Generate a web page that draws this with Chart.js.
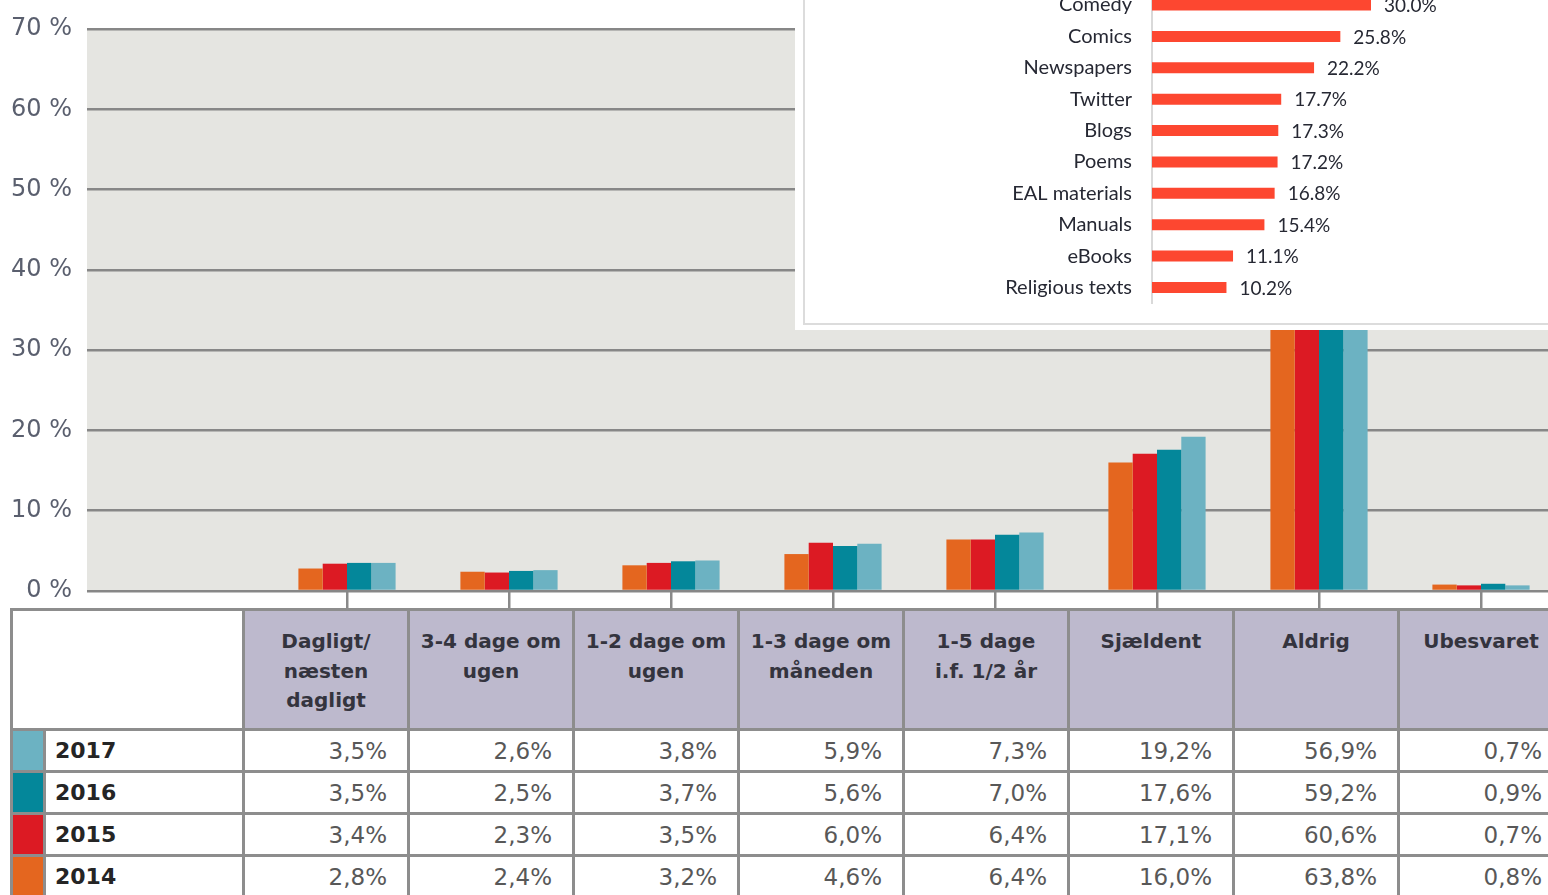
<!DOCTYPE html>
<html lang="da">
<head>
<meta charset="utf-8">
<script src="https://cdn.jsdelivr.net/npm/chart.js@4.4.1/dist/chart.umd.min.js"></script>
<style>
  html, body { margin: 0; padding: 0; background: #fff; width: 1548px; height: 895px; overflow: hidden; }
  #wrap { position: relative; width: 1548px; height: 895px; overflow: hidden; }
  #hovedgraf { position: absolute; left: 0; top: 0; }
  #indsat { position: absolute; left: 795px; top: 0; width: 780px; height: 330px; background: #fff; overflow: hidden; }
  #indsat .ramme { position: absolute; left: 8px; top: -10px; width: 800px; height: 333px; border-left: 2px solid #dcdcdc; border-bottom: 2px solid #dcdcdc; }
  #grafIndsat { position: absolute; left: 10px; top: -40px; }
  #tabel { position: absolute; left: 10px; top: 608px; width: 1552px; border-collapse: collapse; table-layout: fixed; font-family: "DejaVu Sans", sans-serif; }
  #tabel th, #tabel td { border: 3px solid #8d8d8d; padding: 0; }
  #tabel th { background: #bdb9cd; color: #34343e; font-size: 20px; font-weight: bold; line-height: 29.5px; vertical-align: top; padding-top: 16px; text-align: center; height: 101px; }
  #tabel th.tom { background: #fff; }
  #tabel td { height: 39px; font-size: 23px; color: #585858; text-align: right; padding-right: 20px; }
  #tabel td.aar { text-align: left; padding-left: 9px; padding-right: 0; font-size: 22px; font-weight: bold; color: #252525; }
</style>
</head>
<body>
<div id="wrap">
  <canvas id="hovedgraf" width="1570" height="608"></canvas>
  <table id="tabel"></table>
  <div id="indsat">
    <div class="ramme"></div>
    <canvas id="grafIndsat" width="740" height="350"></canvas>
  </div>
</div>
<script>
const kategorier = ["Dagligt/\nnæsten\ndagligt", "3-4 dage om\nugen", "1-2 dage om\nugen", "1-3 dage om\nmåneden", "1-5 dage\ni.f. 1/2 år", "Sjældent", "Aldrig", "Ubesvaret"];
const aar = ["2014", "2015", "2016", "2017"];
const vaerdier2014 = [2.8, 2.4, 3.2, 4.6, 6.4, 16.0, 63.8, 0.8];
const vaerdier2015 = [3.4, 2.3, 3.5, 6.0, 6.4, 17.1, 60.6, 0.7];
const vaerdier2016 = [3.5, 2.5, 3.7, 5.6, 7.0, 17.6, 59.2, 0.9];
const vaerdier2017 = [3.5, 2.6, 3.8, 5.9, 7.3, 19.2, 56.9, 0.7];
const farver = ["#e4661f", "#dc1a23", "#04879a", "#6cb2c2"];

const laesetyper = ["Comedy", "Comics", "Newspapers", "Twitter", "Blogs", "Poems", "EAL materials", "Manuals", "eBooks", "Religious texts"];
const laeseandele = [30.0, 25.8, 22.2, 17.7, 17.3, 17.2, 16.8, 15.4, 11.1, 10.2];

const serier = [vaerdier2014, vaerdier2015, vaerdier2016, vaerdier2017];

// tabel under grafen
const tabel = document.getElementById("tabel");
let html = '<colgroup><col style="width:33px"><col style="width:199px">';
kategorier.forEach(() => { html += '<col style="width:165px">'; });
html += '</colgroup><tr><th class="tom" colspan="2"></th>';
kategorier.forEach(k => { html += `<th>${k.replace(/\n/g, "<br>")}</th>`; });
html += '</tr>';
for (let i = aar.length - 1; i >= 0; i--) {
  html += `<tr><td style="background:${farver[i]}"></td><td class="aar">${aar[i]}</td>`;
  serier[i].forEach(v => { html += `<td>${v.toFixed(1).replace(".", ",")}%</td>`; });
  html += '</tr>';
}
tabel.innerHTML = html;

const baggrund = {
  id: "baggrund",
  beforeDraw(chart) {
    const { ctx, chartArea, scales } = chart;
    const venstre = scales.y.right - 17;
    ctx.save();
    ctx.fillStyle = "#e5e5e1";
    ctx.fillRect(venstre, chartArea.top, chartArea.right - venstre, chartArea.bottom - chartArea.top);
    ctx.restore();
  }
};

// ingen ekstra luft fra etiketterne
const nulPadding = s => { s.paddingTop = 0; s.paddingBottom = 0; s.paddingLeft = 0; s.paddingRight = 0; };

new Chart(document.getElementById("hovedgraf"), {
  type: "bar",
  data: {
    labels: [""].concat(kategorier),
    datasets: aar.map((a, i) => ({
      label: a,
      data: [null].concat(serier[i]),
      backgroundColor: farver[i],
      categoryPercentage: 0.6,
      barPercentage: 1.0
    }))
  },
  options: {
    responsive: false,
    animation: false,
    layout: { padding: { top: 29, right: 8, bottom: 0, left: 0 } },
    plugins: { legend: { display: false }, tooltip: { enabled: false } },
    scales: {
      x: {
        afterFit: s => { s.height = 17; nulPadding(s); },
        border: { display: false },
        grid: {
          offset: false,
          drawOnChartArea: false,
          tickLength: 17,
          lineWidth: 2.5,
          tickColor: c => c.index === 0 ? "rgba(0,0,0,0)" : "#8a8a8a"
        },
        ticks: { display: false }
      },
      y: {
        min: 0,
        max: 70,
        afterFit: s => { s.width = 104; nulPadding(s); },
        border: { display: false },
        grid: { color: "#878787", lineWidth: 2.5, tickLength: 17 },
        ticks: {
          stepSize: 10,
          padding: 15,
          color: "#5a5f6e",
          font: { family: "DejaVu Sans", size: 24 },
          callback: v => v + " %"
        }
      }
    }
  },
  plugins: [baggrund]
});

const vaerdiTekst = {
  id: "vaerdiTekst",
  afterDatasetsDraw(chart) {
    const { ctx } = chart;
    const meta = chart.getDatasetMeta(0);
    ctx.save();
    ctx.fillStyle = "#262833";
    ctx.font = "19px Lato";
    ctx.textBaseline = "middle";
    meta.data.forEach((bar, i) => {
      ctx.fillText(laeseandele[i].toFixed(1) + "%", bar.x + 13, bar.y + 1);
    });
    ctx.restore();
  }
};

new Chart(document.getElementById("grafIndsat"), {
  type: "bar",
  data: {
    labels: laesetyper,
    datasets: [{
      data: laeseandele,
      backgroundColor: "#fd4730",
      categoryPercentage: 1.0,
      barPercentage: 0.35
    }]
  },
  options: {
    indexAxis: "y",
    responsive: false,
    animation: false,
    layout: { padding: { top: 29.3, right: 28, bottom: 6.8, left: 0 } },
    plugins: { legend: { display: false }, tooltip: { enabled: false } },
    scales: {
      x: { display: false, min: 0, max: 50 },
      y: {
        afterFit: s => { s.width = 347; nulPadding(s); },
        border: { display: true, color: "#d9d9d9", width: 2 },
        grid: { display: false, drawTicks: false },
        ticks: { padding: 20, color: "#262833", font: { family: "Lato", size: 20 } }
      }
    }
  },
  plugins: [vaerdiTekst]
});
</script>
</body>
</html>
